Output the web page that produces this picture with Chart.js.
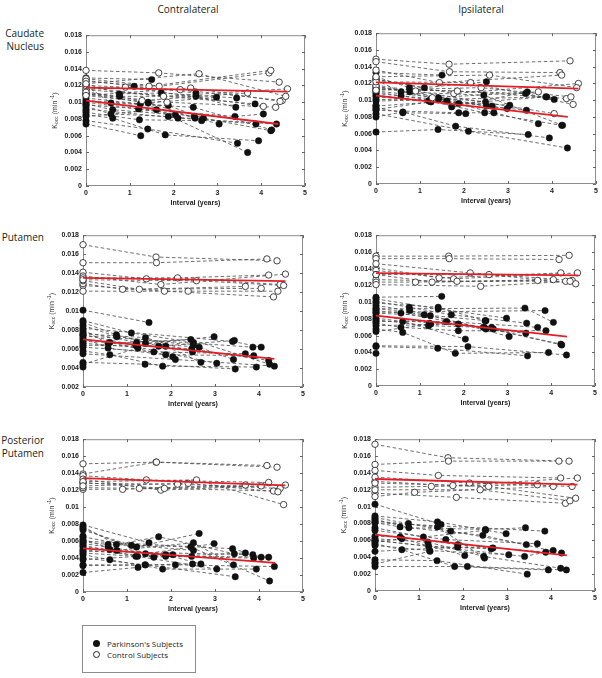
<!DOCTYPE html>
<html><head><meta charset="utf-8">
<script src="https://cdn.jsdelivr.net/npm/chart.js@4.4.0/dist/chart.umd.min.js"></script>
<style>
body{margin:0;background:#fff;width:602px;height:678px;position:relative;overflow:hidden;font-family:"Open Sans",sans-serif;color:#231f20}
.t{position:absolute;font-size:10px;line-height:13px;white-space:nowrap}
.rt{position:absolute;left:0;width:44px;text-align:right;font-size:10px;line-height:13px;white-space:nowrap}
canvas{position:absolute}
.lg{position:absolute;left:82px;top:625px;width:114px;height:48px;border:1px solid #8c8c8c;box-sizing:border-box}
.li{position:absolute;left:8px;font-size:8px;line-height:10px;white-space:nowrap}
.dot{position:absolute;left:-3px;width:7px;height:7px;border-radius:50%;box-sizing:border-box}
</style></head><body>
<div class="t" style="left:188px;top:3px;transform:translateX(-50%)">Contralateral</div>
<div class="t" style="left:481px;top:3px;transform:translateX(-50%)">Ipsilateral</div>
<div class="rt" style="top:27px">Caudate<br>Nucleus</div>
<div class="rt" style="top:231px">Putamen</div>
<div class="rt" style="top:434px">Posterior<br>Putamen</div>
<div class="lg">
  <div class="li" style="top:13px;left:24px"><span class="dot" style="left:-14px;top:1px;background:#111"></span>Parkinson's Subjects</div>
  <div class="li" style="top:24px;left:24px"><span class="dot" style="left:-14px;top:1px;background:#fff;border:1px solid #222"></span>Control Subjects</div>
</div>
<script>
const xTicks = [0, 1, 2, 3, 4, 5];
const yTicks = [0, 0.002, 0.004, 0.006, 0.008, 0.01, 0.012, 0.014, 0.016, 0.018];

// scan intervals (years) per subject
const pdTimes = [
 [0,0.57,2.45,4.24],[0,0.57,1.88,3.88],[0,0.61,2.04],[0,0.61,1.81,3.94],[0,0.76,1.72,3.44],
 [0,0.77,2.51,3.42],[0,1.10,2.51],[0,1.20,2.47,4.22],[0,1.22,2.64],[0,1.24,3.04],
 [0,1.41,3.46],[0,1.42,2.49],[0,1.42,2.98],[0,1.50],[0,1.61,3.69],
 [0,1.88,2.68],[0,2.10,4.35],[0,3.40,4.05],[0,3.86],[0,1.25],[0]];
const ctrlTimes = [
 [0,1.66,4.41],[0,1.67,4.18],[0,1.44,4.22],[0,1.77,4.60],[0,1.85,4.33],
 [0,0.90,4.05],[0,1.28,3.69],[0,2.15,4.48],[0,2.58,4.56],[0,2.39,4.43]];

// Caudate nucleus, contralateral
const pdCaudContra = [
 [0.0120,0.0099,0.0094,0.0067],[0.0095,0.0086,0.0083,0.0074],[0.0098,0.0091,0.0085],[0.0085,0.0081,0.0061,0.0054],
 [0.0122,0.0110,0.0111,0.0105],[0.0112,0.0107,0.0107,0.0094],[0.0126,0.0119,0.0111],[0.0100,0.0092,0.0083,0.0066],
 [0.0088,0.0079,0.0078],[0.0105,0.0098,0.0074],[0.0078,0.0068,0.0051],[0.0108,0.0100,0.0081],[0.0110,0.0099,0.0106],
 [0.0129,0.0127],[0.0083,0.0091,0.0040],[0.0102,0.0096,0.0081],[0.0092,0.0081,0.0074],[0.0097,0.0083,0.0086],
 [0.0115,0.0098],[0.0074,0.0060],[0.0090]];
const ctrlCaudContra = [
 [0.0138,0.0135,0.0124],[0.0128,0.0119,0.0135],[0.0125,0.0119,0.0138],[0.0118,0.0107,0.0116],[0.0110,0.0100,0.0094],
 [0.0115,0.0118,0.0095],[0.0112,0.0102,0.0111],[0.0120,0.0115,0.0102],[0.0122,0.0134,0.0107],[0.0108,0.0117,0.0101]];
const fitCaudContraPD = [[0,0.0102],[4.39,0.0074]];
const fitCaudContraCtrl = [[0,0.01174],[4.6,0.01127]];

// Caudate nucleus, ipsilateral
const pdCaudIpsi = [
 [0.0124,0.0110,0.0106,0.0070],[0.0110,0.0105,0.0096,0.0104],[0.0091,0.0085,0.0084],[0.0080,0.0086,0.0069,0.0055],
 [0.0128,0.0115,0.0092,0.0110],[0.0116,0.0110,0.0093,0.0088],[0.0125,0.0115,0.0122],[0.0106,0.0099,0.0085,0.0070],
 [0.0101,0.0100,0.0093],[0.0104,0.0099,0.0094],[0.0062,0.0065,0.0059],[0.0111,0.0103,0.0098],[0.0108,0.0101,0.0090],
 [0.0133,0.0130],[0.0093,0.0099,0.0072],[0.0088,0.0085,0.0085],[0.0084,0.0063,0.0043],[0.0114,0.0108,0.0101],
 [0.0099,0.0104],[0.0089,0.0098],[0.0094]];
const ctrlCaudIpsi = [
 [0.0149,0.0143,0.0147],[0.0146,0.0134,0.0133],[0.0136,0.0121,0.0130],[0.0125,0.0108,0.0120],[0.0113,0.0111,0.0102],
 [0.0118,0.0111,0.0084],[0.0117,0.0103,0.0110],[0.0122,0.0121,0.0095],[0.0128,0.0130,0.0115],[0.0112,0.0115,0.0104]];
const fitCaudIpsiPD = [[0,0.01056],[4.36,0.00802]];
const fitCaudIpsiCtrl = [[0,0.01213],[4.6,0.01138]];

// Putamen, contralateral
const pdPutContra = [
 [0.0080,0.0066,0.0070,0.0044],[0.0072,0.0061,0.0054,0.0053],[0.0070,0.0067,0.0052],[0.0058,0.0054,0.0042,0.0041],
 [0.0088,0.0075,0.0063,0.0069],[0.0085,0.0073,0.0064,0.0049],[0.0090,0.0077,0.0067],[0.0075,0.0064,0.0060,0.0048],
 [0.0078,0.0067,0.0062],[0.0066,0.0062,0.0045],[0.0046,0.0044,0.0039],[0.0076,0.0072,0.0057],[0.0068,0.0066,0.0073],
 [0.0101,0.0088],[0.0062,0.0057,0.0055],[0.0064,0.0063,0.0046],[0.0055,0.0049,0.0042],[0.0082,0.0068,0.0062],
 [0.0074,0.0062],[0.0044,0.0061],[0.0041]];
const ctrlPutContra = [
 [0.0170,0.0157,0.0153],[0.0151,0.0151,0.0155],[0.0141,0.0134,0.0138],[0.0137,0.0128,0.0139],[0.0127,0.0121,0.0115],
 [0.0129,0.0123,0.0124],[0.0132,0.0123,0.0126],[0.0135,0.0135,0.0128],[0.0133,0.0132,0.0127],[0.0121,0.0121,0.0121]];
const fitPutContraPD = [[0,0.00703],[4.35,0.00496]];
const fitPutContraCtrl = [[0,0.0135],[4.6,0.01316]];

// Putamen, ipsilateral
const pdPutIpsi = [
 [0.0090,0.0087,0.0070,0.0049],[0.0075,0.0070,0.0066,0.0066],[0.0081,0.0077,0.0056],[0.0068,0.0064,0.0039,0.0040],
 [0.0101,0.0094,0.0085,0.0075],[0.0096,0.0090,0.0068,0.0063],[0.0093,0.0085,0.0078],[0.0079,0.0072,0.0070,0.0050],
 [0.0084,0.0075,0.0070],[0.0087,0.0084,0.0059],[0.0047,0.0045,0.0036],[0.0099,0.0094,0.0078],[0.0104,0.0092,0.0081],
 [0.0106,0.0107],[0.0077,0.0077,0.0070],[0.0072,0.0074,0.0068],[0.0048,0.0047,0.0037],[0.0092,0.0093,0.0076],
 [0.0088,0.0090],[0.0065,0.0074],[0.0039]];
const ctrlPutIpsi = [
 [0.0155,0.0155,0.0156],[0.0152,0.0152,0.0151],[0.0141,0.0129,0.0135],[0.0138,0.0128,0.0135],[0.0127,0.0125,0.0125],
 [0.0124,0.0124,0.0127],[0.0133,0.0124,0.0126],[0.0146,0.0135,0.0126],[0.0133,0.0133,0.0122],[0.0121,0.0119,0.0125]];
const fitPutIpsiPD = [[0,0.0084],[4.36,0.0059]];
const fitPutIpsiCtrl = [[0,0.01348],[4.62,0.0132]];

// Posterior putamen, contralateral
const pdPostContra = [
 [0.0059,0.0056,0.0053,0.0013],[0.0057,0.0053,0.0042,0.0040],[0.0053,0.0050,0.0044],[0.0044,0.0038,0.0027,0.0027],
 [0.0077,0.0056,0.0065,0.0045],[0.0062,0.0049,0.0058,0.0032],[0.0073,0.0055,0.0049],[0.0046,0.0042,0.0042,0.0041],
 [0.0065,0.0053,0.0069],[0.0055,0.0042,0.0027],[0.0032,0.0032,0.0018],[0.0040,0.0032,0.0033],[0.0075,0.0045,0.0057],
 [0.0079,0.0058],[0.0050,0.0041,0.0046],[0.0038,0.0044,0.0033],[0.0031,0.0032,0.0030],[0.0060,0.0051,0.0041],
 [0.0048,0.0044],[0.0023,0.0029],[0.0066]];
const ctrlPostContra = [
 [0.0139,0.0153,0.0147],[0.0151,0.0153,0.0149],[0.0137,0.0132,0.0129],[0.0133,0.0120,0.0126],[0.0129,0.0122,0.0119],
 [0.0121,0.0121,0.0125],[0.0123,0.0122,0.0126],[0.0128,0.0127,0.0122],[0.0130,0.0132,0.0103],[0.0125,0.0128,0.0118]];
const fitPostContraPD = [[0,0.00514],[4.37,0.00342]];
const fitPostContraCtrl = [[0,0.01342],[4.6,0.01257]];

// Posterior putamen, ipsilateral
const pdPostIpsi = [
 [0.0081,0.0076,0.0066,0.0045],[0.0065,0.0064,0.0055,0.0046],[0.0058,0.0062,0.0042],[0.0056,0.0049,0.0029,0.0025],
 [0.0087,0.0080,0.0071,0.0055],[0.0085,0.0075,0.0073,0.0075],[0.0075,0.0064,0.0072],[0.0062,0.0058,0.0041,0.0027],
 [0.0060,0.0053,0.0050],[0.0054,0.0048,0.0043],[0.0037,0.0036,0.0020],[0.0083,0.0076,0.0039],[0.0089,0.0082,0.0068],
 [0.0103,0.0079],[0.0072,0.0061,0.0056],[0.0047,0.0052,0.0051],[0.0029,0.0029,0.0025],[0.0060,0.0041,0.0048],
 [0.0081,0.0071],[0.0032,0.0047],[0.0034]];
const ctrlPostIpsi = [
 [0.0174,0.0158,0.0154],[0.0150,0.0154,0.0154],[0.0143,0.0137,0.0134],[0.0130,0.0125,0.0134],[0.0116,0.0111,0.0104],
 [0.0112,0.0117,0.0124],[0.0123,0.0124,0.0126],[0.0135,0.0128,0.0124],[0.0128,0.0124,0.0110],[0.0120,0.0120,0.0107]];
const fitPostIpsiPD = [[0,0.00668],[4.36,0.00422]];
const fitPostIpsiCtrl = [[0,0.01328],[4.6,0.01262]];

const PAD_L = 50, PAD_T = 6, PAD_R = 6, X_H = 21;
const tickFont = {family: 'Liberation Sans', size: 7, weight: 'bold'};

const framePlugin = {
  id: 'frame',
  beforeDatasetsDraw(chart) {
    const {ctx, chartArea: a, scales: {x, y}} = chart;
    ctx.save();
    ctx.strokeStyle = '#8c8c8c';
    ctx.lineWidth = 1;
    ctx.strokeRect(a.left + 0.5, a.top + 0.5, a.right - a.left - 1, a.bottom - a.top - 1);
    ctx.strokeStyle = '#666';
    ctx.beginPath();
    y.ticks.forEach(t => {
      const p = Math.round(y.getPixelForValue(t.value)) + 0.5;
      ctx.moveTo(a.left, p); ctx.lineTo(a.left + 3, p);
      ctx.moveTo(a.right - 3, p); ctx.lineTo(a.right, p);
    });
    x.ticks.forEach(t => {
      const p = Math.round(x.getPixelForValue(t.value)) + 0.5;
      ctx.moveTo(p, a.bottom); ctx.lineTo(p, a.bottom - 3);
      ctx.moveTo(p, a.top); ctx.lineTo(p, a.top + 3);
    });
    ctx.stroke();
    ctx.restore();
  },
  afterDraw(chart) {
    const {ctx, chartArea: a} = chart;
    ctx.save();
    ctx.translate(a.left - 31, (a.top + a.bottom) / 2);
    ctx.rotate(-Math.PI / 2);
    ctx.fillStyle = '#333';
    ctx.textBaseline = 'middle';
    const big = '7px "Liberation Sans"', small = '5px "Liberation Sans"';
    const parts = [['K', big, 0], ['occ', small, 2], [' (min', big, 0], [' -1', small, -2], [')', big, 0]];
    let w = 0;
    parts.forEach(p => { ctx.font = p[1]; w += ctx.measureText(p[0]).width; });
    let cx = -w / 2;
    parts.forEach(p => { ctx.font = p[1]; ctx.fillText(p[0], cx, p[2]); cx += ctx.measureText(p[0]).width; });
    ctx.restore();
  }
};

function fmt(v) { return String(+Number(v).toFixed(4)); }

function panel(rect, yMin, pd, ctrl, fitPD, fitCtrl) {
  const [L, T, W, H] = rect;
  const c = document.createElement('canvas');
  c.width = W + PAD_L + PAD_R; c.height = H + PAD_T + X_H;
  c.style.left = (L - PAD_L) + 'px'; c.style.top = (T - PAD_T) + 'px';
  document.body.appendChild(c);
  const ds = [];
  const addLines = (times, vals) => times.forEach((ts, i) => {
    if (ts.length < 2) return;
    ds.push({data: ts.map((t, j) => ({x: t, y: vals[i][j]})), showLine: true, borderColor: '#4a4a4a',
      borderWidth: 0.8, borderDash: [3.5, 2.5], pointRadius: 0, order: 3});
  });
  addLines(pdTimes, pd); addLines(ctrlTimes, ctrl);
  const pts = (times, vals) => times.flatMap((ts, i) => ts.map((t, j) => ({x: t, y: vals[i][j]})));
  ds.push({data: pts(ctrlTimes, ctrl), showLine: false, pointRadius: 3.2, pointBackgroundColor: '#fff',
    pointBorderColor: '#1a1a1a', pointBorderWidth: 0.8, clip: false, order: 1});
  ds.push({data: pts(pdTimes, pd), showLine: false, pointRadius: 3.2, pointBackgroundColor: '#111',
    pointBorderColor: '#111', pointBorderWidth: 0.5, clip: false, order: 1});
  [fitPD, fitCtrl].forEach(f => ds.push({data: f.map(([x, y]) => ({x, y})), showLine: true,
    borderColor: '#e41e26', borderWidth: 1.8, pointRadius: 0, order: 0}));
  new Chart(c, {
    type: 'scatter',
    data: {datasets: ds},
    plugins: [framePlugin],
    options: {
      responsive: false, animation: false, devicePixelRatio: 1,
      layout: {padding: {left: 0, top: PAD_T, right: PAD_R, bottom: 0}},
      plugins: {legend: {display: false}, tooltip: {enabled: false}},
      scales: {
        x: {type: 'linear', min: 0, max: 5,
          afterFit: s => { s.height = X_H; },
          afterBuildTicks: s => { s.ticks = xTicks.map(v => ({value: v})); },
          grid: {display: false, drawTicks: false}, border: {display: false},
          ticks: {padding: 3, color: '#222', font: tickFont, callback: v => fmt(v), maxRotation: 0},
          title: {display: true, text: 'Interval (years)', color: '#222', font: tickFont, padding: {top: 2, bottom: 0}}},
        y: {type: 'linear', min: yMin, max: 0.018,
          afterFit: s => { s.width = PAD_L; },
          afterBuildTicks: s => { s.ticks = yTicks.filter(v => v >= yMin - 1e-9).map(v => ({value: v})); },
          grid: {display: false, drawTicks: false}, border: {display: false},
          ticks: {padding: 4, color: '#222', font: tickFont, callback: v => fmt(v)}}
      }
    }
  });
}

panel([86, 33, 219, 153], 0, pdCaudContra, ctrlCaudContra, fitCaudContraPD, fitCaudContraCtrl);
panel([376, 31, 220, 153], 0, pdCaudIpsi, ctrlCaudIpsi, fitCaudIpsiPD, fitCaudIpsiCtrl);
panel([83, 233, 220, 154], 0.002, pdPutContra, ctrlPutContra, fitPutContraPD, fitPutContraCtrl);
panel([376, 233, 219, 153], 0, pdPutIpsi, ctrlPutIpsi, fitPutIpsiPD, fitPutIpsiCtrl);
panel([83, 437, 220, 155], 0, pdPostContra, ctrlPostContra, fitPostContraPD, fitPostContraCtrl);
panel([375, 437, 220, 154], 0, pdPostIpsi, ctrlPostIpsi, fitPostIpsiPD, fitPostIpsiCtrl);
</script>
</body></html>
